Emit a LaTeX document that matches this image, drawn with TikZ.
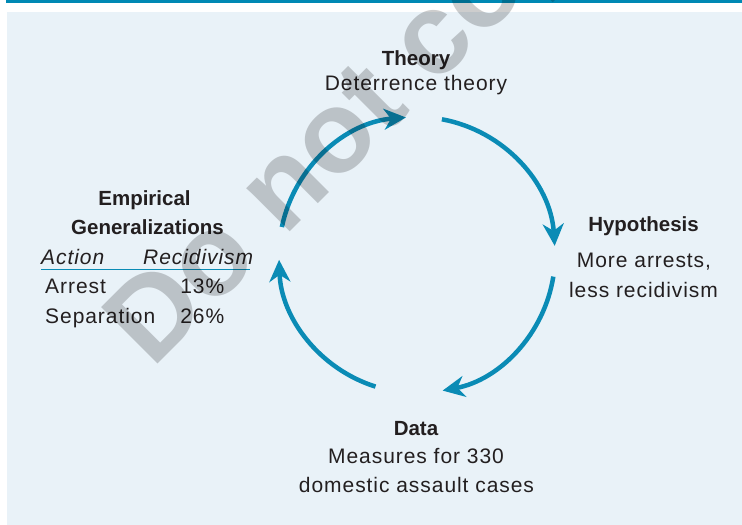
\documentclass[tikz,border=0pt]{standalone}
\usepackage{fontspec}
\setmainfont{Liberation Sans}
\newfontfamily\bodyf{Liberation Sans}[LetterSpace=4.5]
\newfontfamily\headf{Liberation Sans}
\usetikzlibrary{arrows.meta}
\definecolor{bgblue}{HTML}{E9F2F8}
\definecolor{barblue}{HTML}{0089B4}
\definecolor{arrblue}{HTML}{0A8BB5}
\definecolor{ink}{HTML}{231F20}
\definecolor{wmgray}{HTML}{CDCDCD}
\begin{document}
\begin{tikzpicture}[x=1pt,y=-1pt,
  head/.style={font=\headf\bfseries\fontsize{20.5}{24}\selectfont, text=ink, inner sep=0pt, anchor=base},
  body/.style={font=\bodyf\fontsize{21}{25}\selectfont, text=ink, inner sep=0pt, anchor=base},
  cyc/.style={draw=arrblue, line width=4.5pt, -{Stealth[length=22pt,width=21pt,inset=7pt]}},
  rule/.style={draw=arrblue, line width=1.3pt},
  wmark/.style={font=\headf\bfseries\fontsize{116}{120}\selectfont, text=wmgray, inner sep=0pt, anchor=base west, rotate=45, xscale=1.0}
]
\useasboundingbox (0,0) rectangle (742,525);
\fill[white] (0,0) rectangle (742,525);
\fill[barblue] (6,0) rectangle (742,3.3);
\fill[bgblue] (7,12) rectangle (742,525);

% cycle arcs
\coordinate (ctr) at (417,255);
\draw[cyc] ([shift={(-79.6:138)}]ctr) arc[start angle=-79.6, end angle=-3.8, radius=138];
\draw[cyc] ([shift={(9:138)}]ctr) arc[start angle=9, end angle=79.3, radius=138];
\draw[cyc] ([shift={(107.5:138)}]ctr) arc[start angle=107.5, end angle=178, radius=138];
\draw[cyc] ([shift={(191.7:138)}]ctr) arc[start angle=191.7, end angle=265.4, radius=138];

% Theory
\node[head] (theoryH) at (416,65) {Theory};
\node[body] (theoryB) at (416,90) {Deterrence theory};
% Hypothesis
\node[head] (hypH) at (643.5,231.5) {Hypothesis};
\node[body] (hypB1) at (644,267) {More arrests,};
\node[body] (hypB2) at (643.5,297) {less recidivism};
% Data
\node[head] (dataH) at (416,435) {Data};
\node[body] (dataB1) at (416,463) {Measures for 330};
\node[body] (dataB2) at (416.5,492) {domestic assault cases};
% Empirical generalizations
\node[head] (empH1) at (144.5,205) {Empirical};
\node[head] (empH2) at (147.5,234.5) {Generalizations};
\node[body, anchor=base west] (colA) at (41,264) {\itshape Action};
\node[body, anchor=base west] (colR) at (143,264) {\itshape Recidivism};
\coordinate (ruleL) at (41,269.5);
\coordinate (ruleR) at (250,269.5);
\draw[rule] (ruleL) -- (ruleR);
\node[body, anchor=base west] (arrest) at (45,293) {Arrest};
\node[body, anchor=base east] (v13) at (224.5,293) {13\%};
\node[body, anchor=base west] (sep) at (45,323) {Separation};
\node[body, anchor=base east] (v26) at (224.5,323) {26\%};

% watermark
\begin{scope}[blend mode=multiply]
\node[wmark] (wm) at (152,370) {Do not copy};
\end{scope}
\end{tikzpicture}
\end{document}
